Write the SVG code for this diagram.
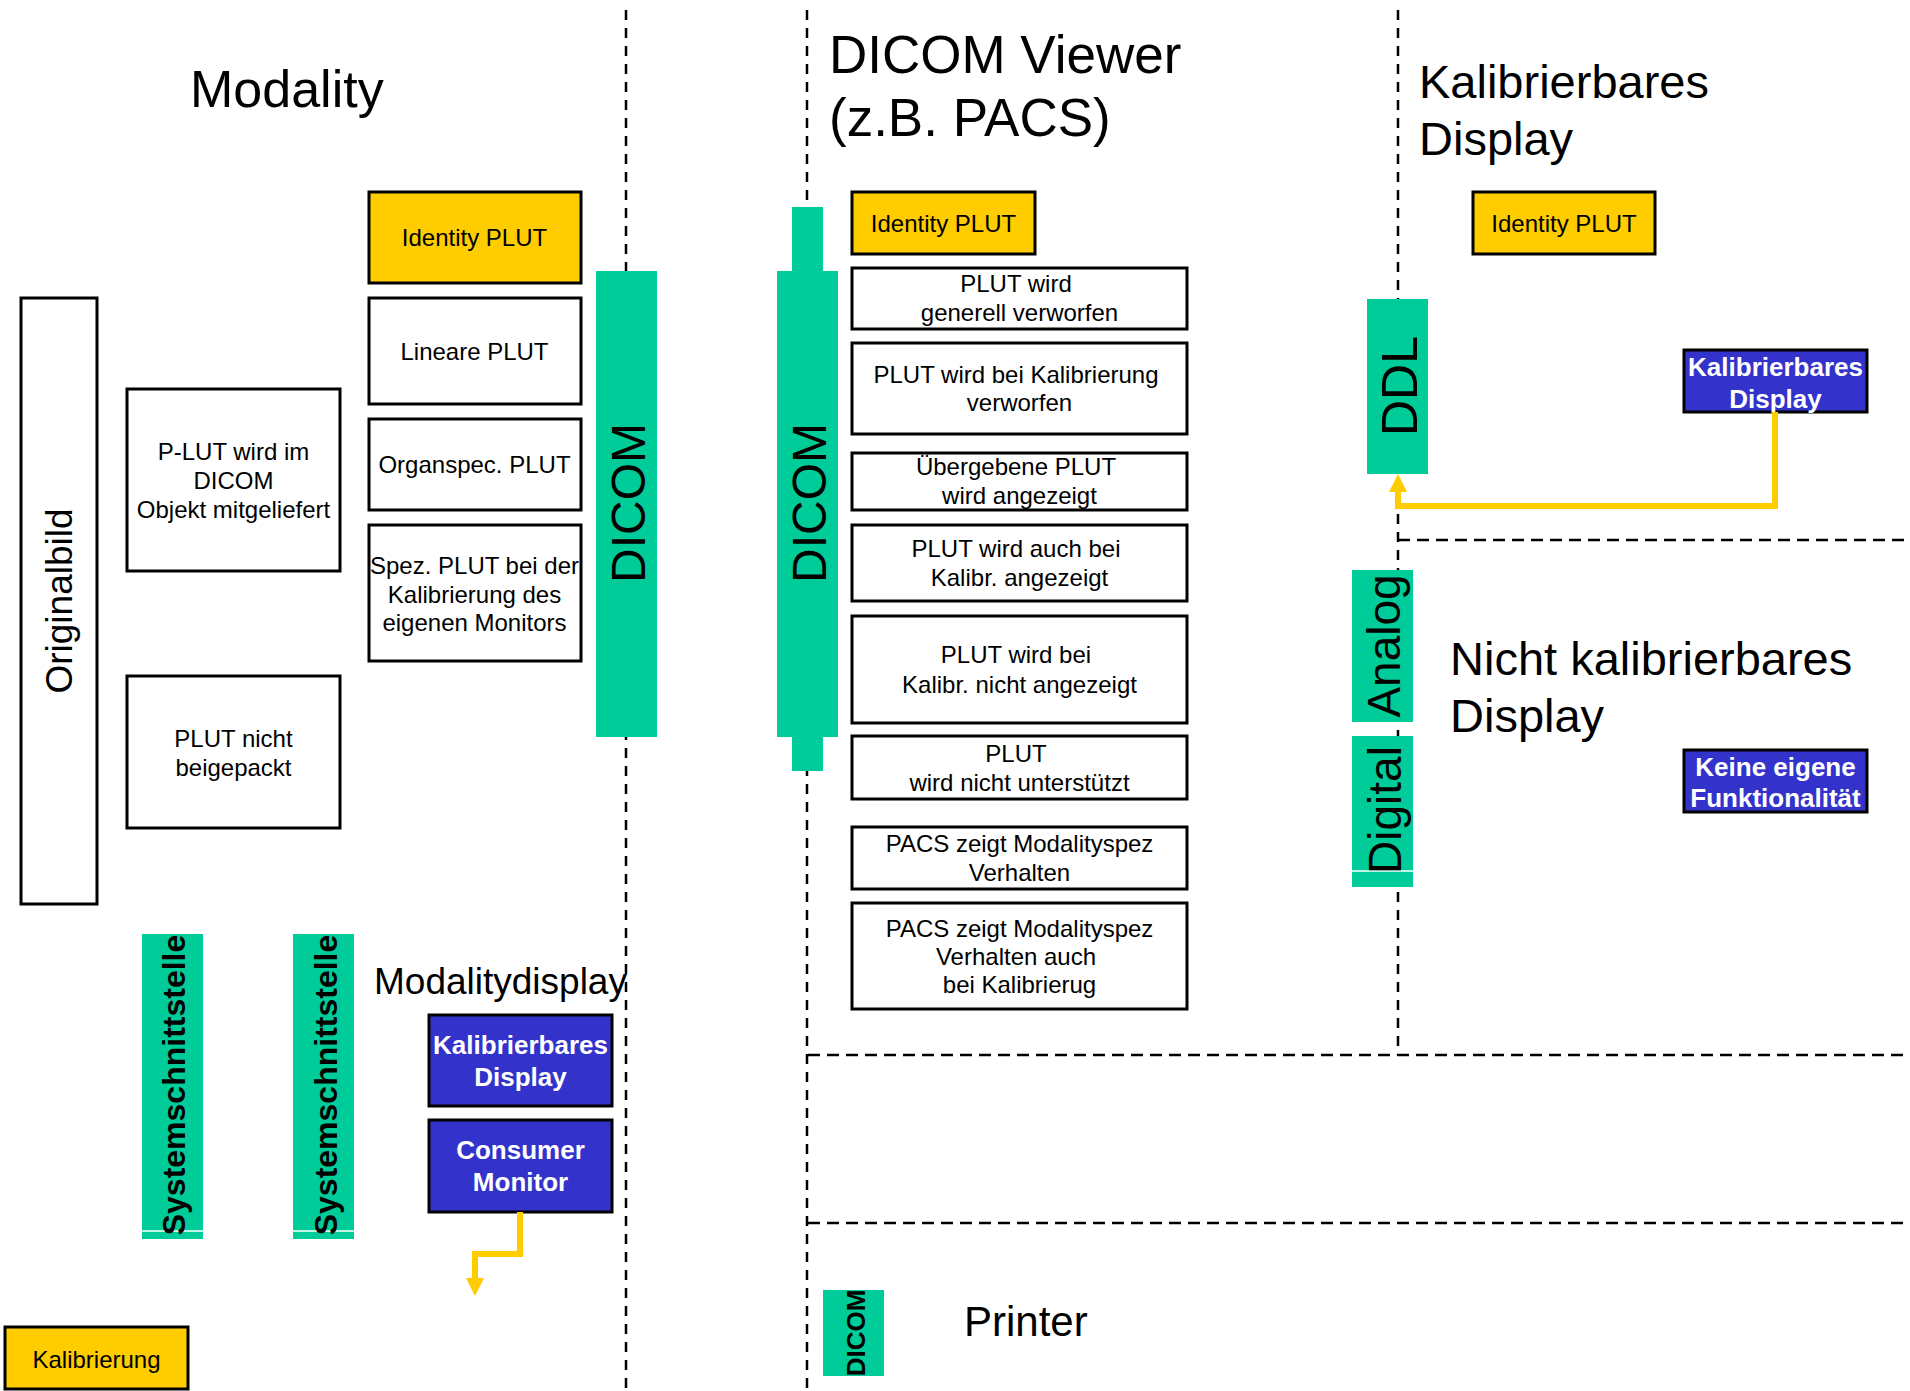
<svg xmlns="http://www.w3.org/2000/svg" width="1910" height="1391" viewBox="0 0 1910 1391">
<style>
text{font-family:"Liberation Sans",Arial,Helvetica,sans-serif;fill:#000}
.box{fill:#fff;stroke:#000;stroke-width:3}
.yel{fill:#FFCC00;stroke:#000;stroke-width:3}
.blue{fill:#3333CC;stroke:#000;stroke-width:3}
.grn{fill:#00CC99}
.wl{stroke:#fff;stroke-width:1.5}
.t24{font-size:24px;text-anchor:middle}
.wb{font-size:26px;font-weight:bold;fill:#fff;text-anchor:middle}
.vt{text-anchor:middle}
.dash{stroke:#000;stroke-width:2.5;stroke-dasharray:10 8;fill:none}
.hdash{stroke:#000;stroke-width:2.5;stroke-dasharray:12 7;fill:none}
.conn{stroke:#FFCC00;stroke-width:6;fill:none}
</style>
<defs>
<marker id="arr" viewBox="0 0 18 18" markerWidth="18" markerHeight="18" markerUnits="userSpaceOnUse" refX="0" refY="9" orient="auto">
<path d="M0,0 L18,9 L0,18 z" fill="#FFCC00"/>
</marker>
</defs>
<rect x="0" y="0" width="1910" height="1391" fill="#fff"/>

<g id="separators">
<line class="dash" x1="626" y1="10" x2="626" y2="1388"/>
<line class="dash" x1="807" y1="10" x2="807" y2="1388"/>
<line class="dash" x1="1398" y1="10" x2="1398" y2="1055"/>
<line class="hdash" x1="1398" y1="540" x2="1910" y2="540"/>
<line class="hdash" x1="808" y1="1055" x2="1910" y2="1055"/>
<line class="hdash" x1="808" y1="1223" x2="1910" y2="1223"/>
</g>

<g id="titles">
<text x="190" y="107" font-size="52">Modality</text>
<text x="829" y="73" font-size="53">DICOM Viewer</text>
<text x="829" y="136" font-size="53">(z.B. PACS)</text>
<text x="1419" y="98" font-size="47">Kalibrierbares</text>
<text x="1419" y="155" font-size="47">Display</text>
<text x="1450" y="675" font-size="47">Nicht kalibrierbares</text>
<text x="1450" y="732" font-size="47">Display</text>
<text x="374" y="994" font-size="37">Modalitydisplay</text>
<text x="964" y="1336" font-size="42">Printer</text>
</g>

<g id="originalbild">
<rect class="box" x="21" y="298" width="76" height="606"/>
<text class="vt" font-size="37" transform="translate(72,601) rotate(-90)">Originalbild</text>
</g>
<g id="plut-im-objekt">
<rect class="box" x="127" y="389" width="213" height="182"/>
<text class="t24" x="233.5" y="460">P-LUT wird im</text>
<text class="t24" x="233.5" y="489">DICOM</text>
<text class="t24" x="233.5" y="518">Objekt mitgeliefert</text>
</g>
<g id="plut-nicht-beigepackt">
<rect class="box" x="127" y="676" width="213" height="152"/>
<text class="t24" x="233.5" y="747">PLUT nicht</text>
<text class="t24" x="233.5" y="776">beigepackt</text>
</g>
<g id="mod-identity-plut">
<rect class="yel" x="369" y="192" width="212" height="91"/>
<text class="t24" x="474.5" y="246">Identity PLUT</text>
</g>
<g id="mod-lineare-plut">
<rect class="box" x="369" y="298" width="212" height="106"/>
<text class="t24" x="474.5" y="360">Lineare PLUT</text>
</g>
<g id="mod-organspec-plut">
<rect class="box" x="369" y="419" width="212" height="91"/>
<text class="t24" x="474.5" y="473">Organspec. PLUT</text>
</g>
<g id="mod-spez-plut">
<rect class="box" x="369" y="525" width="212" height="136"/>
<text class="t24" x="474.5" y="574">Spez. PLUT bei der</text>
<text class="t24" x="474.5" y="603">Kalibrierung des</text>
<text class="t24" x="474.5" y="631">eigenen Monitors</text>
</g>
<g id="mod-dicom">
<rect class="grn" x="596" y="271" width="61" height="466"/>
<text class="vt" font-size="48" transform="translate(645,503) rotate(-90)">DICOM</text>
</g>
<g id="systemschnittstelle-1">
<rect class="grn" x="142" y="934" width="61" height="305"/>
<line class="wl" x1="142" y1="1231" x2="203" y2="1231"/>
<text class="vt" font-size="32" font-weight="bold" transform="translate(185,1085) rotate(-90)">Systemschnittstelle</text>
</g>
<g id="systemschnittstelle-2">
<rect class="grn" x="293" y="934" width="61" height="305"/>
<line class="wl" x1="293" y1="1231" x2="354" y2="1231"/>
<text class="vt" font-size="32" font-weight="bold" transform="translate(337,1085) rotate(-90)">Systemschnittstelle</text>
</g>
<g id="mod-kalibrierbares-display">
<rect class="blue" x="429" y="1015" width="183" height="91"/>
<text class="wb" x="520.5" y="1054">Kalibrierbares</text>
<text class="wb" x="520.5" y="1086">Display</text>
</g>
<g id="consumer-monitor">
<rect class="blue" x="429" y="1120" width="183" height="92"/>
<text class="wb" x="520.5" y="1159">Consumer</text>
<text class="wb" x="520.5" y="1191">Monitor</text>
</g>
<g id="kalibrierung">
<rect class="yel" x="5" y="1327" width="183" height="62"/>
<text class="t24" x="96.5" y="1368">Kalibrierung</text>
</g>

<g id="viewer-dicom">
<rect class="grn" x="792" y="207" width="31" height="564"/>
<rect class="grn" x="777" y="271" width="61" height="466"/>
<text class="vt" font-size="48" transform="translate(826,503) rotate(-90)">DICOM</text>
</g>
<g id="viewer-identity-plut">
<rect class="yel" x="852" y="192" width="183" height="62"/>
<text class="t24" x="943.5" y="232">Identity PLUT</text>
</g>
<g id="v-generell-verworfen">
<rect class="box" x="852" y="268" width="335" height="61"/>
<text class="t24" x="1016" y="292">PLUT wird</text>
<text class="t24" x="1019.5" y="321">generell verworfen</text>
</g>
<g id="v-kalibrierung-verworfen">
<rect class="box" x="852" y="343" width="335" height="91"/>
<text class="t24" x="1016" y="383">PLUT wird bei Kalibrierung</text>
<text class="t24" x="1019.5" y="411">verworfen</text>
</g>
<g id="v-angezeigt">
<rect class="box" x="852" y="453" width="335" height="57"/>
<text class="t24" x="1016" y="475">Übergebene PLUT</text>
<text class="t24" x="1019.5" y="504">wird angezeigt</text>
</g>
<g id="v-auch-angezeigt">
<rect class="box" x="852" y="525" width="335" height="76"/>
<text class="t24" x="1016" y="557">PLUT wird auch bei</text>
<text class="t24" x="1019.5" y="586">Kalibr. angezeigt</text>
</g>
<g id="v-nicht-angezeigt">
<rect class="box" x="852" y="616" width="335" height="107"/>
<text class="t24" x="1016" y="663">PLUT wird bei</text>
<text class="t24" x="1019.5" y="693">Kalibr. nicht angezeigt</text>
</g>
<g id="v-nicht-unterstuetzt">
<rect class="box" x="852" y="736" width="335" height="63"/>
<text class="t24" x="1016" y="762">PLUT</text>
<text class="t24" x="1019.5" y="791">wird nicht unterstützt</text>
</g>
<g id="v-modalityspez">
<rect class="box" x="852" y="827" width="335" height="62"/>
<text class="t24" x="1019.5" y="852">PACS zeigt Modalityspez</text>
<text class="t24" x="1019.5" y="881">Verhalten</text>
</g>
<g id="v-modalityspez-kalibrierung">
<rect class="box" x="852" y="903" width="335" height="106"/>
<text class="t24" x="1019.5" y="937">PACS zeigt Modalityspez</text>
<text class="t24" x="1016" y="965">Verhalten auch</text>
<text class="t24" x="1019.5" y="993">bei Kalibrierug</text>
</g>

<g id="right-identity-plut">
<rect class="yel" x="1473" y="192" width="182" height="62"/>
<text class="t24" x="1564" y="232">Identity PLUT</text>
</g>
<g id="ddl">
<rect class="grn" x="1367" y="299" width="61" height="175"/>
<text class="vt" font-size="50" transform="translate(1417,386) rotate(-90)">DDL</text>
</g>
<g id="right-kalibrierbares-display">
<rect class="blue" x="1684" y="350" width="183" height="62"/>
<text class="wb" x="1775.5" y="376">Kalibrierbares</text>
<text class="wb" x="1775.5" y="408">Display</text>
</g>
<g id="analog">
<rect class="grn" x="1352" y="570" width="61" height="152"/>
<text class="vt" font-size="46" transform="translate(1400,646) rotate(-90)">Analog</text>
</g>
<g id="digital">
<rect class="grn" x="1352" y="736" width="61" height="151"/>
<line class="wl" x1="1352" y1="871" x2="1413" y2="871"/>
<text class="vt" font-size="46" transform="translate(1401,810) rotate(-90)">Digital</text>
</g>
<g id="keine-eigene-funktionalitaet">
<rect class="blue" x="1684" y="750" width="183" height="62"/>
<text class="wb" x="1775.5" y="776">Keine eigene</text>
<text class="wb" x="1775.5" y="807">Funktionalität</text>
</g>
<g id="printer-dicom">
<rect class="grn" x="823" y="1290" width="61" height="86"/>
<text class="vt" font-size="26" font-weight="bold" transform="translate(865,1333) rotate(-90)">DICOM</text>
</g>

<g id="connectors">
<path class="conn" d="M520,1212 V1254 H475 V1278" marker-end="url(#arr)"/>
<path class="conn" d="M1775,412 V506 H1398 V492" marker-end="url(#arr)"/>
</g>
</svg>
